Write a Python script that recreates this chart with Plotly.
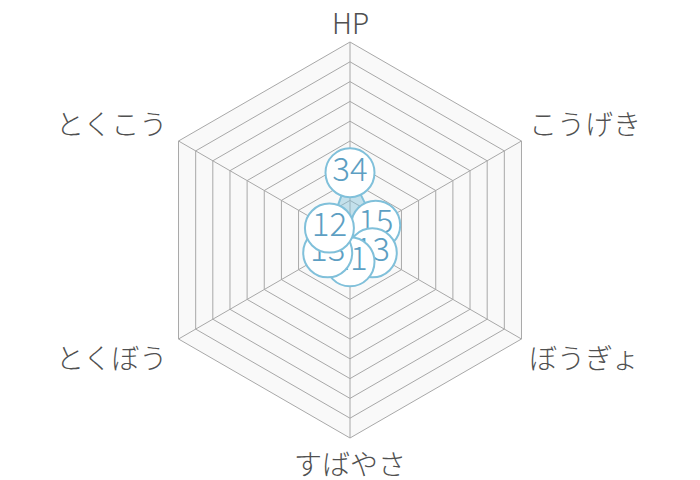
import math

import plotly.graph_objects as go

######################## DATA ########################

stat_names = ["HP", "こうげき", "ぼうぎょ", "すばやさ", "とくぼう", "とくこう"]
stat_values = [34, 15, 13, 11, 13, 12]
radial_max = 100
radial_step = 10

######################## STYLE ########################

line_blue = "#80c0da"
fill_blue = "rgba(128,192,218,0.45)"
text_blue = "#5d9fc3"
grid_gray = "#a8a8a8"
label_gray = "#505050"
jp_font = "Noto Sans CJK JP"

W, H = 700, 480
page_off = 8  # the page body margin pushes the figure by this much
cx, cy, R = 350 - page_off, 240 - page_off, 198  # polar centre and radius, in pixels

fig = go.Figure()

# polygon with fill
fig.add_trace(
    go.Scatterpolar(
        r=stat_values + [stat_values[0]],
        theta=stat_names + [stat_names[0]],
        mode="lines",
        fill="toself",
        fillcolor=fill_blue,
        line=dict(color=line_blue, width=2),
        hoverinfo="skip",
        showlegend=False,
    )
)

# one trace per point so every circle covers the ones before it
for name, val in zip(stat_names, stat_values):
    fig.add_trace(
        go.Scatterpolar(
            r=[val],
            theta=[name],
            mode="markers+text",
            text=[str(val)],
            textposition="middle center",
            textfont=dict(family=jp_font, size=33, color=text_blue, weight=300),
            marker=dict(size=49, color="white", line=dict(color=line_blue, width=2)),
            showlegend=False,
        )
    )

# category labels just outside each corner of the hexagon
for i, name in enumerate(stat_names):
    ang = math.radians(i * 360 / len(stat_names))
    vx = cx + R * math.sin(ang)
    vy = cy - R * math.cos(ang)
    s, c = math.sin(ang), math.cos(ang)
    if abs(s) < 0.1:
        xa, dx = "center", 0
        dy = -20 if c > 0 else 25
    else:
        xa = "left" if s > 0 else "right"
        dx = 6 if s > 0 else -10
        dy = -18 if c > 0 else 18
    fig.add_annotation(
        x=(vx + dx) / W,
        y=1 - (vy + dy) / H,
        xref="paper",
        yref="paper",
        xanchor=xa,
        yanchor="middle",
        text=name,
        showarrow=False,
        font=dict(family=jp_font, size=28, color=label_gray, weight=300),
    )

fig.update_layout(
    width=W,
    height=H,
    margin=dict(l=0, r=0, t=0, b=0),
    paper_bgcolor="white",
    polar=dict(
        domain=dict(x=[(cx - R) / W, (cx + R) / W], y=[1 - (cy + R) / H, 1 - (cy - R) / H]),
        gridshape="linear",
        bgcolor="#f9f9f9",
        radialaxis=dict(
            range=[0, radial_max],
            dtick=radial_step,
            showticklabels=False,
            ticks="",
            showline=False,
            gridcolor=grid_gray,
            gridwidth=1,
        ),
        angularaxis=dict(
            rotation=90,
            direction="clockwise",
            gridcolor=grid_gray,
            linecolor=grid_gray,
            ticks="",
            showticklabels=False,
        ),
    ),
)

fig.write_html("out.html")
